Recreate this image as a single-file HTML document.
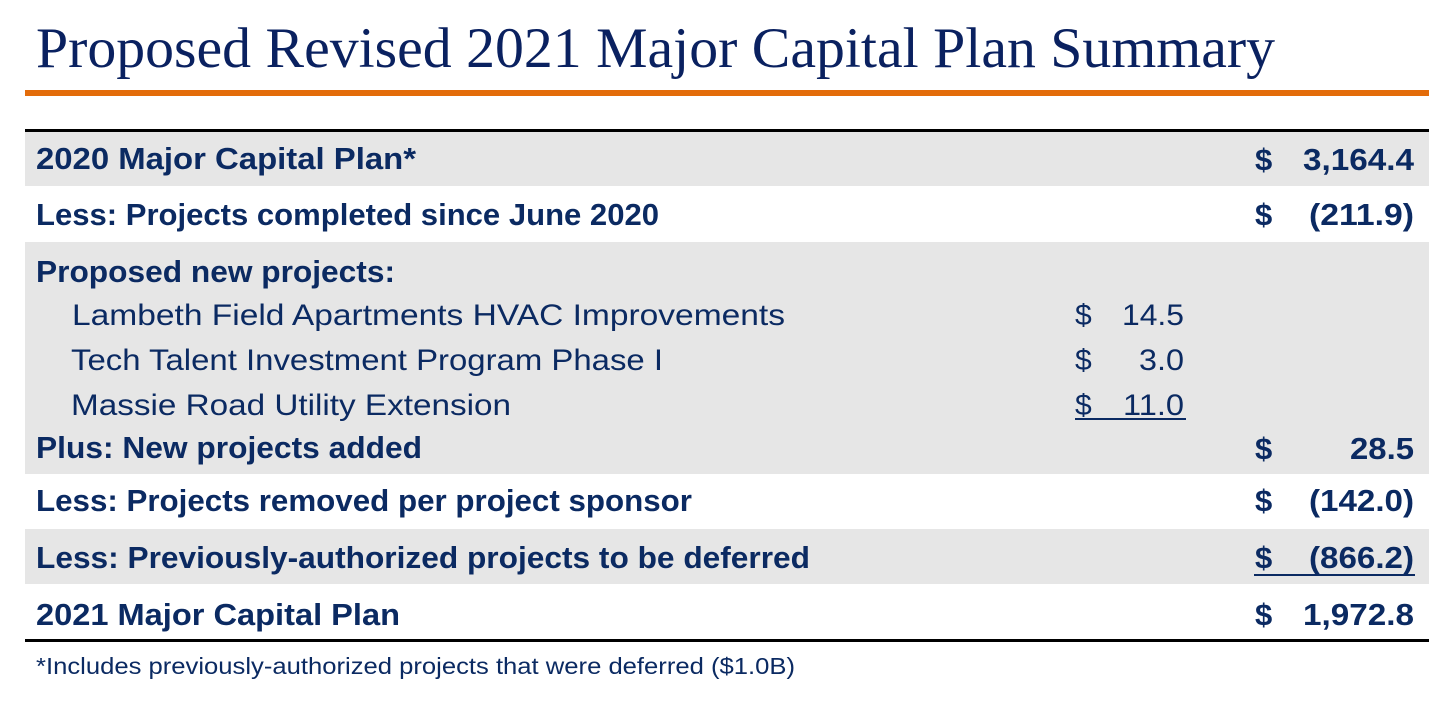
<!DOCTYPE html>
<html>
<head>
<meta charset="utf-8">
<style>
  html, body { margin:0; padding:0; background:#ffffff; }
  body { width:1456px; height:725px; overflow:hidden; }
  svg { display:block; }
  .t { font-family:"Liberation Serif", serif; fill:#0a2160; }
  .b { font-family:"Liberation Sans", sans-serif; font-weight:bold; fill:#0b2a62; }
  .r { font-family:"Liberation Sans", sans-serif; fill:#0b2a62; }
</style>
</head>
<body>
<svg width="1456" height="725" viewBox="0 0 1456 725" xmlns="http://www.w3.org/2000/svg">
  <rect x="0" y="0" width="1456" height="725" fill="#ffffff"/>

  <!-- Title -->
  <text class="t" x="36" y="67" font-size="57" textLength="1239" lengthAdjust="spacingAndGlyphs">Proposed Revised 2021 Major Capital Plan Summary</text>
  <rect x="25" y="90" width="1404" height="6" fill="#e36c0a"/>

  <!-- Row backgrounds -->
  <rect x="25" y="131" width="1404" height="55" fill="#e6e6e6"/>
  <rect x="25" y="242" width="1404" height="232" fill="#e6e6e6"/>
  <rect x="25" y="529" width="1404" height="55" fill="#e6e6e6"/>

  <!-- Top & bottom rules -->
  <rect x="25" y="129" width="1404" height="3" fill="#000000"/>
  <rect x="25" y="639" width="1404" height="3" fill="#000000"/>

  <!-- Labels -->
  <text class="b" x="36" y="169" font-size="31" textLength="380" lengthAdjust="spacingAndGlyphs">2020 Major Capital Plan*</text>
  <text class="b" x="36" y="225" font-size="31" textLength="623" lengthAdjust="spacingAndGlyphs">Less: Projects completed since June 2020</text>
  <text class="b" x="36" y="282" font-size="31" textLength="359" lengthAdjust="spacingAndGlyphs">Proposed new projects:</text>
  <text class="r" x="72" y="325" font-size="30" textLength="713" lengthAdjust="spacingAndGlyphs">Lambeth Field Apartments HVAC Improvements</text>
  <text class="r" x="71" y="370" font-size="30" textLength="592" lengthAdjust="spacingAndGlyphs">Tech Talent Investment Program Phase I</text>
  <text class="r" x="71" y="415" font-size="30" textLength="440" lengthAdjust="spacingAndGlyphs">Massie Road Utility Extension</text>
  <text class="b" x="36" y="458" font-size="31" textLength="386" lengthAdjust="spacingAndGlyphs">Plus: New projects added</text>
  <text class="b" x="36" y="511" font-size="31" textLength="656" lengthAdjust="spacingAndGlyphs">Less: Projects removed per project sponsor</text>
  <text class="b" x="36" y="568" font-size="31" textLength="774" lengthAdjust="spacingAndGlyphs">Less: Previously-authorized projects to be deferred</text>
  <text class="b" x="36" y="625" font-size="31" textLength="364" lengthAdjust="spacingAndGlyphs">2021 Major Capital Plan</text>

  <!-- Sub values -->
  <text class="r" x="1075" y="325" font-size="30">$</text>
  <text class="r" x="1122" y="325" font-size="30" textLength="62" lengthAdjust="spacingAndGlyphs">14.5</text>
  <text class="r" x="1075" y="370" font-size="30">$</text>
  <text class="r" x="1139" y="370" font-size="30" textLength="45" lengthAdjust="spacingAndGlyphs">3.0</text>
  <text class="r" x="1075" y="415" font-size="30">$</text>
  <text class="r" x="1123" y="415" font-size="30" textLength="61" lengthAdjust="spacingAndGlyphs">11.0</text>
  <rect x="1075" y="418" width="111" height="2" fill="#0b2a62"/>

  <!-- Main values -->
  <text class="b" x="1255" y="170" font-size="31">$</text>
  <text class="b" x="1303" y="170" font-size="31" textLength="111" lengthAdjust="spacingAndGlyphs">3,164.4</text>
  <text class="b" x="1255" y="225" font-size="31">$</text>
  <text class="b" x="1309" y="225" font-size="31" textLength="105" lengthAdjust="spacingAndGlyphs">(211.9)</text>
  <text class="b" x="1255" y="459" font-size="31">$</text>
  <text class="b" x="1350" y="459" font-size="31" textLength="64" lengthAdjust="spacingAndGlyphs">28.5</text>
  <text class="b" x="1255" y="511" font-size="31">$</text>
  <text class="b" x="1309" y="511" font-size="31" textLength="105" lengthAdjust="spacingAndGlyphs">(142.0)</text>
  <text class="b" x="1255" y="568" font-size="31">$</text>
  <text class="b" x="1309" y="568" font-size="31" textLength="105" lengthAdjust="spacingAndGlyphs">(866.2)</text>
  <rect x="1254" y="574" width="161" height="2" fill="#0b2a62"/>
  <text class="b" x="1255" y="625" font-size="31">$</text>
  <text class="b" x="1303" y="625" font-size="31" textLength="111" lengthAdjust="spacingAndGlyphs">1,972.8</text>

  <!-- Footnote -->
  <text class="r" x="36" y="674" font-size="23" textLength="759" lengthAdjust="spacingAndGlyphs">*Includes previously-authorized projects that were deferred ($1.0B)</text>
</svg>
</body>
</html>
